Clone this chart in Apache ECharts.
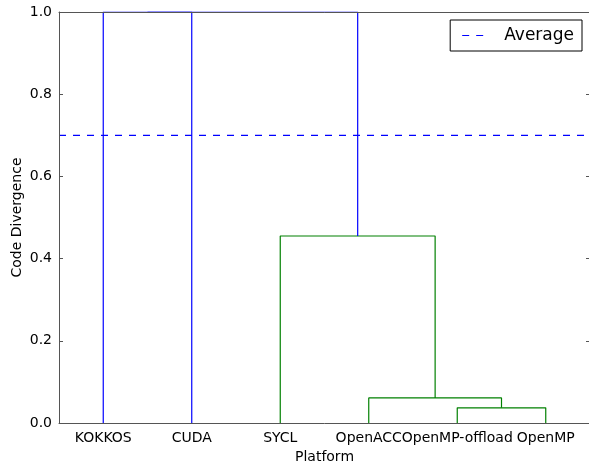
<!DOCTYPE html>
<html>
<head>
<meta charset="utf-8">
<script src="https://cdn.jsdelivr.net/npm/echarts@6/dist/echarts.min.js"></script>
<style>html,body{margin:0;padding:0;background:#fff}#c{width:589px;height:464px}</style>
</head>
<body>
<div id="c"></div>
<script>
// Leaves in dendrogram order
var leaves = ['KOKKOS', 'CUDA', 'SYCL', 'OpenACC', 'OpenMP-offload', 'OpenMP'];
// Linkage: cluster ids 0..5 are leaves, each merge creates id 6, 7, ...
var mergeLeft   = [4, 3, 2, 0, 9];
var mergeRight  = [5, 6, 7, 1, 8];
var mergeHeight = [0.037, 0.061, 0.455, 1.0, 1.0];
var mergeColor  = ['#008000', '#008000', '#008000', '#0000ff', '#0000ff'];
var averageValue = 0.70;

// dendrogram layout (scipy style: leaf i at 5 + 10*i)
var pos = {}, hgt = {};
leaves.forEach(function (l, i) { pos[i] = 5 + 10 * i; hgt[i] = 0; });
var series = [];
mergeHeight.forEach(function (h, k) {
  var id = leaves.length + k, a = mergeLeft[k], b = mergeRight[k];
  var xa = pos[a], xb = pos[b];
  pos[id] = (xa + xb) / 2; hgt[id] = h;
  series.push({
    type: 'line', xAxisIndex: 1, yAxisIndex: 0, symbol: 'none', silent: true, z: 2,
    lineStyle: { color: mergeColor[k], width: 1.2 },
    data: [[xa, hgt[a]], [xa, h], [xb, h], [xb, hgt[b]]]
  });
});
series.push({
  name: 'Average', type: 'line', xAxisIndex: 1, yAxisIndex: 0, symbol: 'none', z: 2,
  lineStyle: { color: '#0000ff', width: 1.2, type: [7, 7] },
  itemStyle: { color: '#0000ff' },
  data: [[0, averageValue], [leaves.length * 10, averageValue]]
});

var font = 'DejaVu Sans';
var axisCol = '#555';
var chart = echarts.init(document.getElementById('c'), null, { renderer: 'canvas' });
chart.setOption({
  animation: false,
  textStyle: { fontFamily: font },
  grid: { left: 59, top: 12, width: 531, height: 411, containLabel: false, outerBoundsMode: 'none' },
  legend: {
    data: [{ name: 'Average', icon: 'path://M0,0 L7,0 L7,1 L0,1 Z M14,0 L21,0 L21,1 L14,1 Z' }],
    right: 7, top: 20,
    backgroundColor: '#fff', borderColor: '#000', borderWidth: 1, borderRadius: 0,
    padding: [7, 8, 7, 12], itemWidth: 21, itemHeight: 1.6,
    itemStyle: { color: '#0000ff' },
    textStyle: { fontFamily: font, fontSize: 17, color: '#000', padding: [0, 0, 0, 16] }
  },
  xAxis: [{
    type: 'category', data: leaves, position: 'bottom', boundaryGap: true, z: 10,
    name: 'Platform', nameLocation: 'middle', nameGap: 27,
    nameTextStyle: { fontFamily: font, fontSize: 14, color: '#000' },
    axisLine: { show: true, lineStyle: { color: axisCol, width: 1 } },
    axisTick: { show: false },
    axisLabel: { interval: 0, hideOverlap: false, margin: 8, fontFamily: font, fontSize: 14, color: '#000' },
    splitLine: { show: false }
  }, {
    type: 'value', min: 0, max: leaves.length * 10, position: 'top', z: 10,
    axisLine: { show: true, onZero: false, lineStyle: { color: axisCol, width: 1 } },
    axisTick: { show: false }, axisLabel: { show: false }, splitLine: { show: false }
  }],
  yAxis: [{
    type: 'value', min: 0, max: 1, interval: 0.2, position: 'left', z: 10,
    name: 'Code Divergence', nameLocation: 'middle', nameGap: 35, nameMoveOverlap: false,
    nameTextStyle: { fontFamily: font, fontSize: 14, color: '#000' },
    axisLine: { show: true, onZero: false, lineStyle: { color: axisCol, width: 1 } },
    axisTick: { show: true, inside: true, length: 4, lineStyle: { color: axisCol } },
    axisLabel: { margin: 7, fontFamily: font, fontSize: 14, color: '#000',
      formatter: function (v) { return v.toFixed(1); } },
    splitLine: { show: false }
  }, {
    type: 'value', min: 0, max: 1, interval: 0.2, position: 'right', z: 10,
    axisLine: { show: true, onZero: false, lineStyle: { color: axisCol, width: 1 } },
    axisTick: { show: true, inside: true, length: 4, lineStyle: { color: axisCol } },
    axisLabel: { show: false }, splitLine: { show: false }
  }],
  series: series
});
</script>
</body>
</html>
